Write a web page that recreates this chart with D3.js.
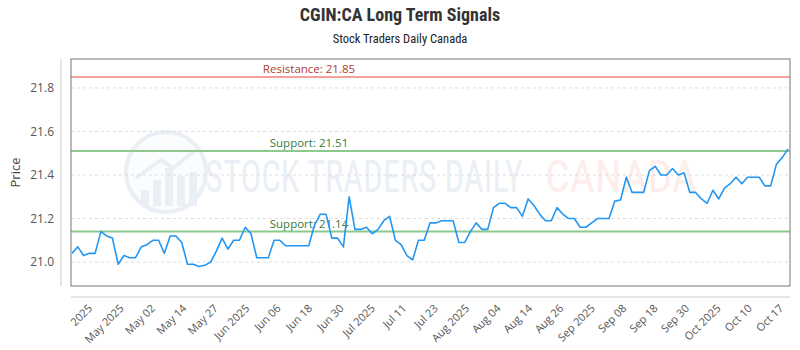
<!DOCTYPE html>
<html>
<head>
<meta charset="utf-8">
<script src="https://cdn.jsdelivr.net/npm/d3@7"></script>
<style>
  html, body { margin: 0; padding: 0; background: #fff; }
  svg { display: block; }
</style>
</head>
<body>
<svg id="chart" width="800" height="350"></svg>
<script>
// ---- data ----
const prices = [
  21.04, 21.07, 21.03, 21.04, 21.04, 21.14, 21.12, 21.11, 20.99, 21.03,
  21.02, 21.02, 21.07, 21.08, 21.10, 21.10, 21.04, 21.12, 21.12, 21.09,
  20.99, 20.99, 20.98, 20.985, 21.00, 21.05, 21.11, 21.06, 21.10, 21.10,
  21.16, 21.13, 21.02, 21.02, 21.02, 21.10, 21.10, 21.075, 21.075, 21.075,
  21.075, 21.075, 21.17, 21.22, 21.22, 21.11, 21.11, 21.07, 21.30, 21.15,
  21.15, 21.16, 21.13, 21.15, 21.19, 21.21, 21.10, 21.08, 21.03, 21.01,
  21.10, 21.10, 21.18, 21.18, 21.19, 21.19, 21.19, 21.09, 21.09, 21.14,
  21.18, 21.15, 21.15, 21.25, 21.27, 21.27, 21.25, 21.25, 21.21, 21.29,
  21.26, 21.22, 21.19, 21.19, 21.25, 21.22, 21.20, 21.20, 21.16, 21.16,
  21.18, 21.20, 21.20, 21.20, 21.28, 21.285, 21.39, 21.32, 21.32, 21.32,
  21.42, 21.44, 21.40, 21.40, 21.43, 21.40, 21.41, 21.32, 21.32, 21.29,
  21.27, 21.33, 21.29, 21.34, 21.36, 21.39, 21.36, 21.39, 21.39, 21.39,
  21.35, 21.35, 21.45, 21.48, 21.52
];
const xTickLabels = [
  "2025", "May 2025", "May 02", "May 14", "May 27", "Jun 2025", "Jun 06",
  "Jun 18", "Jun 30", "Jul 2025", "Jul 11", "Jul 23", "Aug 2025", "Aug 04",
  "Aug 14", "Aug 26", "Sep 2025", "Sep 08", "Sep 18", "Sep 30", "Oct 2025",
  "Oct 10", "Oct 17"
];
const xTickIndexRange = [3.9, 123.6];
const yTickValues = [21.0, 21.2, 21.4, 21.6, 21.8];
const resistanceLevels = [21.85];
const supportLevels = [21.51, 21.14];
const titleText = "CGIN:CA Long Term Signals";
const subtitleText = "Stock Traders Daily Canada";

// ---- layout ----
const plot = { left: 71, right: 790, top: 59, bottom: 286 };
const svg = d3.select("#chart");
const condensed = "'Roboto Condensed','Liberation Sans Narrow','Arial Narrow',Roboto,sans-serif";

const x = d3.scaleLinear().domain([0, prices.length - 1]).range([plot.left + 1, plot.right - 2]);
const y = d3.scaleLinear().domain([20.89, 21.933]).range([plot.bottom, plot.top]);
const xt = d3.scalePoint().domain(xTickLabels).range(xTickIndexRange.map(x));

// title
svg.append("text").attr("x", 400).attr("y", 21).attr("text-anchor", "middle")
  .attr("font-family", condensed).attr("font-weight", "bold").attr("font-size", 18)
  .attr("fill", "#333").text(titleText);
svg.append("text").attr("x", 400).attr("y", 43).attr("text-anchor", "middle")
  .attr("font-family", condensed).attr("font-size", 12.5)
  .attr("fill", "#222").text(subtitleText);

// watermark
const wm = svg.append("g").attr("opacity", 0.12);
wm.append("circle").attr("cx", 166).attr("cy", 172).attr("r", 40)
  .attr("fill", "#dfe8f5").attr("stroke", "#5a7fb5").attr("stroke-width", 4);
const bars = [[141, 190], [153, 180], [165, 168], [177, 176], [189, 172]];
bars.forEach(b => wm.append("rect").attr("x", b[0]).attr("y", b[1]).attr("width", 8)
  .attr("height", 206 - b[1]).attr("fill", "#5a7fb5"));
wm.append("path").attr("d", "M136,178 L161,160 L173,168 L196,150")
  .attr("fill", "none").attr("stroke", "#5a7fb5").attr("stroke-width", 4);
function wmText(str, x0, width, color) {
  const g = wm.append("g");
  const t = g.append("text").attr("font-family", condensed)
    .attr("font-size", 45).attr("fill", color).text(str);
  const w = t.node().getComputedTextLength();
  g.attr("transform", `translate(${x0},192) scale(${width / w},1)`);
}
wmText("STOCK TRADERS DAILY", 205, 318, "#5a7fb5");
wmText("CANADA", 545, 152, "#f07060");

// grid
svg.append("g").selectAll("line").data(yTickValues).join("line")
  .attr("x1", plot.left).attr("x2", plot.right)
  .attr("y1", d => y(d)).attr("y2", d => y(d))
  .attr("stroke", "#ddd").attr("stroke-dasharray", "3,3");

// y axis
const yAxis = svg.append("g").attr("transform", `translate(${plot.left - 10},0)`)
  .call(d3.axisLeft(y).tickValues(yTickValues).tickFormat(d3.format(".1f")).tickSize(0).tickPadding(7));
yAxis.select(".domain").attr("stroke", "#ccc").attr("d", `M0,${plot.top}V${plot.bottom}`);
yAxis.selectAll("text").attr("font-family", "'Open Sans',sans-serif").attr("font-size", 12).attr("fill", "#555");

svg.append("text").attr("transform", `translate(20,${(plot.top + plot.bottom) / 2}) rotate(-90)`)
  .attr("text-anchor", "middle").attr("font-family", "'Open Sans',sans-serif")
  .attr("font-size", 13).attr("fill", "#444").text("Price");

// x axis
const xAxis = svg.append("g").attr("transform", `translate(0,${plot.bottom + 11})`)
  .call(d3.axisBottom(xt).tickSize(0).tickPadding(0));
xAxis.select(".domain").attr("stroke", "#ccc").attr("d", `M${plot.left},0H${plot.right}`);
xAxis.selectAll("text")
  .attr("font-family", "'Open Sans',sans-serif").attr("font-size", 11).attr("fill", "#555")
  .attr("text-anchor", "end").attr("dy", 0)
  .attr("transform", "translate(-2,12) rotate(-45)");

// levels
function level(v, lineColor, textColor, label) {
  svg.append("line").attr("x1", plot.left).attr("x2", plot.right)
    .attr("y1", y(v)).attr("y2", y(v)).attr("stroke", lineColor).attr("stroke-width", 2);
  svg.append("text").attr("x", 309).attr("y", y(v) - 4).attr("text-anchor", "middle")
    .attr("font-family", "'Open Sans',sans-serif").attr("font-size", 11.5)
    .attr("fill", textColor).text(label + ": " + v.toFixed(2));
}
resistanceLevels.forEach(v => level(v, "#f4a19b", "#b03a2e", "Resistance"));
supportLevels.forEach(v => level(v, "#8dc98d", "#3b7a3b", "Support"));

// price line
svg.append("path").datum(prices)
  .attr("fill", "none").attr("stroke", "#2196f3").attr("stroke-width", 1.6)
  .attr("stroke-linejoin", "round")
  .attr("d", d3.line().x((d, i) => x(i)).y(d => y(d)));

// frame
svg.append("rect").attr("x", plot.left).attr("y", plot.top)
  .attr("width", plot.right - plot.left).attr("height", plot.bottom - plot.top)
  .attr("fill", "none").attr("stroke", "#777").attr("stroke-width", 1);
</script>
</body>
</html>
